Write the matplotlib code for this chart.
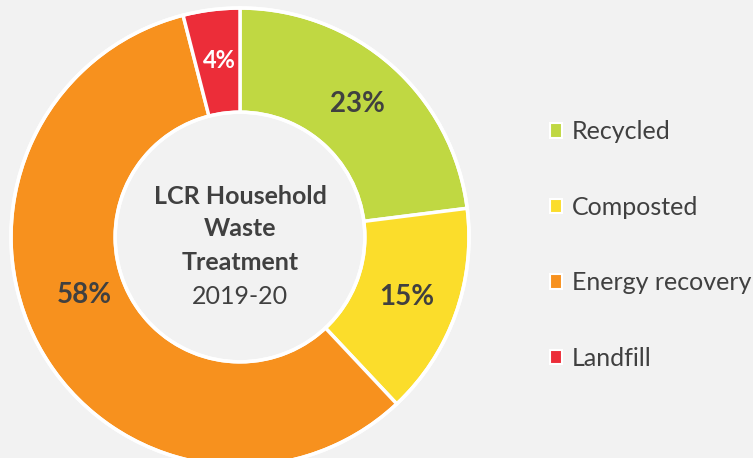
import matplotlib.pyplot as plt
from matplotlib.patches import Patch

categories = ["Recycled", "Composted", "Energy recovery", "Landfill"]
shares = [23, 15, 58, 4]
colors = ["#C0D842", "#FBDD2B", "#F7911E", "#EC2D39"]
label_colors = ["#404040", "#404040", "#404040", "white"]
title_lines = ["LCR Household", "Waste", "Treatment"]
subtitle = "2019-20"

plt.rcParams['font.family'] = ['Lato', 'DejaVu Sans']
bg = "#F2F2F2"
txt = "#404040"

fig = plt.figure(figsize=(7.53, 4.58), dpi=100, facecolor=bg)
ax = fig.add_axes([0, 0, 1, 1])
ax.set_facecolor(bg)
ax.axis('off')

cx, cy, r = 240, 221, 229
width = 0.455

wedges, texts, autotexts = ax.pie(
    shares, colors=colors, center=(cx, cy), radius=r, startangle=90,
    counterclock=False, autopct='%d%%', pctdistance=1 - width / 2,
    wedgeprops=dict(width=r * width, edgecolor='white', linewidth=2.5),
    textprops=dict(fontsize=20, fontweight='bold'))

# Excel nudged a couple of labels off the wedge midpoints
nudges = {2: (84, 458 - 295), 3: (219, 458 - 61)}
for i, t in enumerate(autotexts):
    t.set_color(label_colors[i])
    if i in nudges:
        t.set_position(nudges[i])
autotexts[3].set_fontsize(17)

ax.set_xlim(0, 753)
ax.set_ylim(0, 458)
ax.set_aspect('equal')

# white rim round outside and inside of the ring
ax.add_patch(plt.Circle((cx, cy), r, fill=False, ec='white', lw=2.5))
ax.add_patch(plt.Circle((cx, cy), r * (1 - width), fill=False, ec='white', lw=2.5))

ys = [458 - 196, 458 - 229, 458 - 263]
for line, y in zip(title_lines, ys):
    ax.text(cx, y, line, ha='center', va='center', fontsize=18,
            fontweight='bold', color=txt)
ax.text(cx, 458 - 297, subtitle, ha='center', va='center', fontsize=18, color=txt)

handles = [Patch(facecolor=c, edgecolor='white', linewidth=1.5) for c in colors]
leg = ax.legend(handles, categories, loc='center left', bbox_to_anchor=(0.70, 0.465),
                frameon=False, fontsize=18, labelspacing=2.1, handlelength=0.5,
                handleheight=0.5, handletextpad=0.4, labelcolor=txt)

fig.savefig("out.png", dpi=100, facecolor=bg)
